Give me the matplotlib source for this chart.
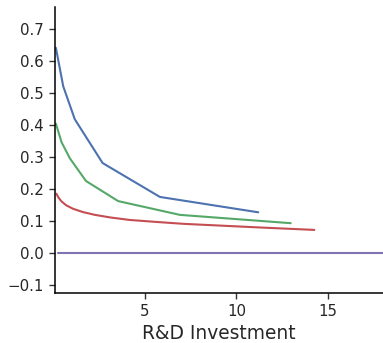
import numpy as np
import matplotlib
matplotlib.use("Agg")
import matplotlib.pyplot as plt
import seaborn as sns

sns.set_theme(style="ticks")
plt.rcParams['font.family'] = ['DejaVu Sans']

blue_x = [0.14, 0.54, 1.17, 2.69, 5.82, 11.19]
blue_y = [0.640, 0.520, 0.417, 0.280, 0.174, 0.126]

green_x = [0.14, 0.45, 0.90, 1.78, 3.54, 6.91, 12.96]
green_y = [0.403, 0.345, 0.295, 0.224, 0.161, 0.118, 0.092]

red_x = [0.17, 0.28, 0.45, 0.70, 1.08, 1.60, 2.27, 3.10, 4.18, 5.60, 7.10, 8.55, 11.50, 14.25]
red_y = [0.184, 0.172, 0.160, 0.148, 0.137, 0.127, 0.118, 0.110, 0.102, 0.096, 0.090, 0.086, 0.078, 0.071]

purple_x = [0.28, 20.0]
purple_y = [0.0, 0.0]

pal = sns.color_palette("deep")

fig = plt.figure(figsize=(3.83, 3.43), dpi=100)
ax = fig.add_axes([0.144, 0.145, 0.856, 0.835])

ax.plot(blue_x, blue_y, color=pal[0], lw=1.5)
ax.plot(green_x, green_y, color=pal[2], lw=1.5)
ax.plot(red_x, red_y, color=pal[3], lw=1.5)
ax.plot(purple_x, purple_y, color=pal[4], lw=1.5)

ax.set_xlim(0.1, 18.0)
ax.set_ylim(-0.127, 0.768)
ax.set_xticks([5, 10, 15])
ax.set_yticks([-0.1, 0.0, 0.1, 0.2, 0.3, 0.4, 0.5, 0.6, 0.7])
ax.tick_params(labelsize=10.8, length=4.5, width=1, color='#333333', labelcolor='#262626')
ax.set_xlabel("R&D Investment", fontsize=13.4, color='#262626', labelpad=3)
for s in ['left', 'bottom']:
    ax.spines[s].set_linewidth(1.1)
    ax.spines[s].set_color('black')
sns.despine(ax=ax)

fig.savefig("out.png", dpi=100)
